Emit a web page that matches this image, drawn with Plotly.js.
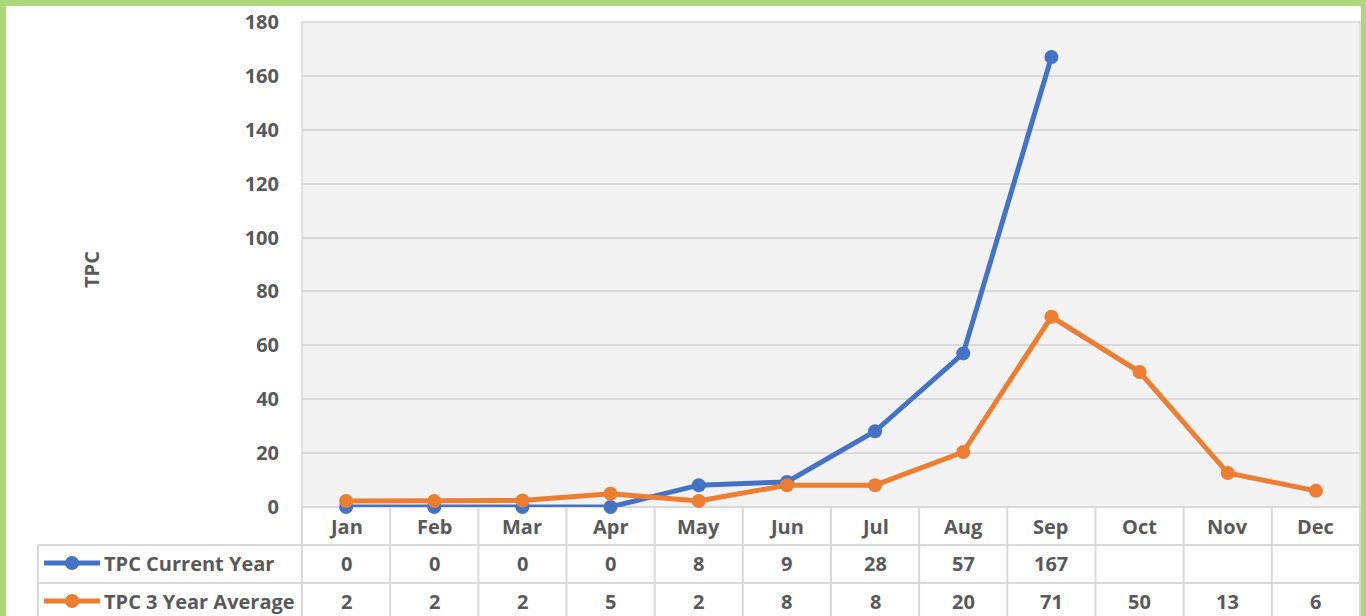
<!DOCTYPE html>
<html>
<head>
<meta charset="utf-8">
<script src="https://cdn.plot.ly/plotly-3.0.1.min.js"></script>
<style>
html,body{margin:0;padding:0;background:#fff;}
#chart{width:1366px;height:616px;}
</style>
</head>
<body>
<div id="chart"></div>
<script>
// ---- data ----
const months = ["Jan","Feb","Mar","Apr","May","Jun","Jul","Aug","Sep","Oct","Nov","Dec"];
const currentYear = [0, 0, 0, 0, 8.1, 9.3, 28.1, 57, 167, null, null, null];
const threeYearAvg = [2.2, 2.2, 2.4, 4.9, 2.2, 8.1, 8.1, 20.4, 70.6, 50.1, 12.6, 6.0];
const seriesNames = ["TPC Current Year", "TPC 3 Year Average"];
const seriesColors = ["#4472c4", "#ed7d31"];
const yTicks = [0, 20, 40, 60, 80, 100, 120, 140, 160, 180];
const yTitle = "TPC";

// ---- geometry (pixels) ----
const W = 1366, H = 616;
const plotL = 302, plotR = 1360, plotT = 22, plotB = 507;
const tableL = 38, rowLines = [545, 583, 616];
const px = x => x / W;
const py = y => 1 - y / H;
const font = "Open Sans, Liberation Sans, sans-serif";
const txtColor = "#595959";
const gridColor = "#d9d9d9";
const frameColor = "#acd87b";
const fs = 20;

const traces = [currentYear, threeYearAvg].map((vals, i) => ({
  x: months, y: vals, type: "scatter", mode: "lines+markers",
  name: seriesNames[i],
  line: {color: seriesColors[i], width: 5},
  marker: {color: seriesColors[i], size: 14},
  connectgaps: false, cliponaxis: false, hoverinfo: "x+y"
}));

const shapes = [];
const annotations = [];
const colW = (plotR - plotL) / months.length;

// green frame (left, top, right)
shapes.push({type: "line", xref: "paper", yref: "paper", x0: px(3), x1: px(3), y0: 0, y1: 1, line: {color: frameColor, width: 6}});
shapes.push({type: "line", xref: "paper", yref: "paper", x0: 0, x1: 1, y0: py(3), y1: py(3), line: {color: frameColor, width: 6}});
shapes.push({type: "line", xref: "paper", yref: "paper", x0: px(1363.5), x1: px(1363.5), y0: 0, y1: 1, line: {color: frameColor, width: 5}});

// plot border
shapes.push({type: "rect", xref: "paper", yref: "paper", x0: px(plotL), x1: px(plotR), y0: py(plotB), y1: py(plotT),
  line: {color: gridColor, width: 1.5}, fillcolor: "rgba(0,0,0,0)", layer: "below"});

// table horizontal lines
shapes.push({type: "line", xref: "paper", yref: "paper", x0: px(plotL), x1: px(plotR), y0: py(plotB), y1: py(plotB), line: {color: gridColor, width: 2}, layer: "below"});
[rowLines[0], rowLines[1]].forEach(y => shapes.push({type: "line", xref: "paper", yref: "paper",
  x0: px(tableL), x1: px(plotR), y0: py(y), y1: py(y), line: {color: gridColor, width: 2}, layer: "below"}));
// table vertical lines
for (let i = 0; i <= months.length; i++) {
  const x = plotL + i * colW;
  shapes.push({type: "line", xref: "paper", yref: "paper", x0: px(x), x1: px(x), y0: py(plotB), y1: 0, line: {color: gridColor, width: 2}, layer: "below"});
}
shapes.push({type: "line", xref: "paper", yref: "paper", x0: px(tableL), x1: px(tableL), y0: py(rowLines[0]), y1: 0, line: {color: gridColor, width: 2}, layer: "below"});

// month header
months.forEach((m, i) => annotations.push({x: m, xref: "x", y: py(526), yref: "paper", text: m, showarrow: false,
  font: {family: font, size: fs, color: txtColor, weight: "bold"}, xanchor: "center", yanchor: "middle"}));

// rows
const rowsY = [563, 601];
[currentYear, threeYearAvg].forEach((vals, r) => {
  const yc = rowsY[r];
  // legend key
  shapes.push({type: "line", xref: "paper", yref: "paper", x0: px(44), x1: px(100), y0: py(yc), y1: py(yc),
    line: {color: seriesColors[r], width: 5}});
  shapes.push({type: "circle", xref: "paper", yref: "paper", x0: px(65), x1: px(79), y0: py(yc + 7), y1: py(yc - 7),
    line: {color: seriesColors[r], width: 0}, fillcolor: seriesColors[r]});
  annotations.push({x: px(102), xref: "paper", y: py(yc), yref: "paper", text: seriesNames[r], showarrow: false,
    font: {family: font, size: fs, color: txtColor, weight: "bold"}, xanchor: "left", yanchor: "middle"});
  vals.forEach((v, i) => {
    if (v === null) return;
    annotations.push({x: months[i], xref: "x", y: py(yc), yref: "paper", text: String(Math.round(v)), showarrow: false,
      font: {family: font, size: fs, color: txtColor, weight: "bold"}, xanchor: "center", yanchor: "middle"});
  });
});

// y title
annotations.push({x: px(91), xref: "paper", y: py(270), yref: "paper", text: yTitle, textangle: -90, showarrow: false,
  font: {family: font, size: fs, color: txtColor, weight: "bold"}, xanchor: "center", yanchor: "middle"});

const layout = {
  width: W, height: H,
  margin: {l: 0, r: 0, t: 0, b: 0},
  paper_bgcolor: "#ffffff", plot_bgcolor: "#f2f2f2",
  showlegend: false,
  xaxis: {domain: [px(plotL), px(plotR)], type: "category", range: [-0.5, 11.5],
    showticklabels: false, showgrid: false, zeroline: false, showline: false, ticks: ""},
  yaxis: {domain: [py(plotB), py(plotT)], range: [0, 180], tickvals: yTicks,
    showgrid: true, gridcolor: gridColor, gridwidth: 2, zeroline: false, showline: false,
    ticks: "", ticklabelstandoff: 22,
    tickfont: {family: font, size: fs, color: txtColor, weight: "bold"}},
  shapes: shapes, annotations: annotations
};

Plotly.newPlot("chart", traces, layout, {displayModeBar: false, staticPlot: true});
</script>
</body>
</html>
